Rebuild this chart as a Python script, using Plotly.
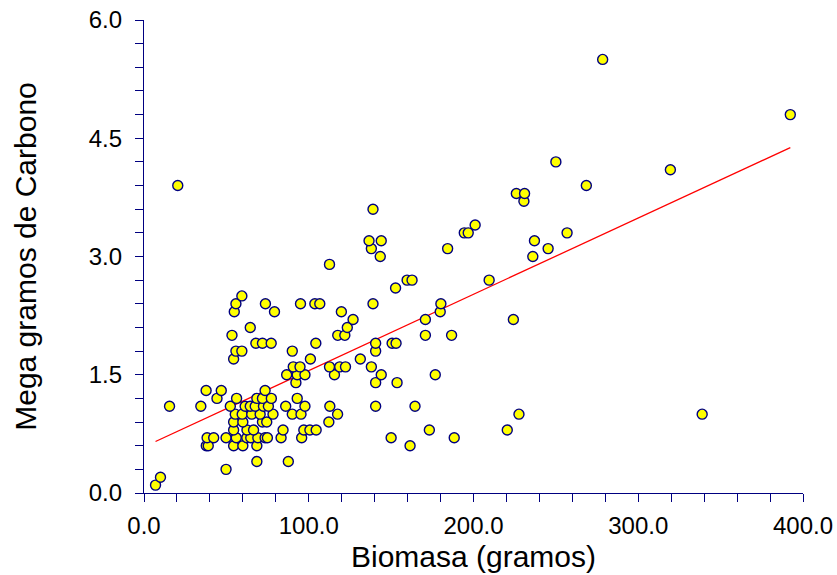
import numpy as np
import plotly.graph_objects as go

# Biomasa (gramos) and Mega gramos de Carbono
biomasa = [
    7, 10, 49.8, 68.5, 87.6,
    37.8, 39.0, 54.4, 60, 68.5, 161.5,
    38.3, 42.3, 49.8, 56, 62.4, 64.8, 69.1, 73.5, 74.9, 83.2, 95.7, 150, 188.3,
    54.4, 62.5, 66.5, 84.4, 97, 100.7, 104.5, 173.2, 220.5,
    54.4, 60, 71.9, 74.5, 112.2,
    55.4, 59.6, 65.4, 70.5, 78.3, 90, 95.3, 117.5, 227.6, 338.8,
    15.5, 34.5, 52.4, 61.4, 64.5, 67.5, 72.5, 75.5, 86, 97.7, 112.8, 140.6, 164.5,
    44.3, 56.2, 68.5, 71.9, 77.3, 93,
    37.7, 46.9, 73.5,
    92.2, 140.6, 153.6,
    86.6, 93, 97.7, 115.6, 144, 176.8,
    90.6, 94.7, 112.6, 118.8, 122.3, 138,
    54.4, 101, 131.3,
    55.8, 59.4, 90, 140.6,
    67.9, 71.9, 77.2, 104.3, 140.6, 150.6, 153,
    53.4, 117.6, 121.9, 170.8, 186.7,
    64.5, 123.4,
    126.9, 170.8, 224.2,
    54.8, 79.2, 119.8, 179.8,
    55.8, 73.7, 95, 103.7, 106.7, 139, 180.2,
    59.4,
    152.7,
    159.7, 162.7, 209.5,
    112.6,
    143.4, 236,
    138, 184.3, 245.3,
    136.6, 144, 237,
    194.4, 196.8, 256.8,
    201,
    139,
    230.6,
    226, 231,
    20.5, 268.5,
    319.5,
    250,
    392.3,
    278.4,
]
carbono = (
    [0.1, 0.2, 0.3, 0.4, 0.4]
    + [0.6] * 6
    + [0.7] * 13
    + [0.8] * 9
    + [0.9] * 5
    + [1.0] * 10
    + [1.1] * 13
    + [1.2] * 6
    + [1.3] * 3
    + [1.4] * 3
    + [1.5] * 6
    + [1.6] * 6
    + [1.7] * 3
    + [1.8] * 4
    + [1.9] * 7
    + [2.0] * 5
    + [2.1] * 2
    + [2.2] * 3
    + [2.3] * 4
    + [2.4] * 7
    + [2.5] * 1
    + [2.6] * 1
    + [2.7] * 3
    + [2.9] * 1
    + [3.0] * 2
    + [3.1] * 3
    + [3.2] * 3
    + [3.3] * 3
    + [3.4] * 1
    + [3.6] * 1
    + [3.7] * 1
    + [3.8] * 2
    + [3.9] * 2
    + [4.1] * 1
    + [4.2] * 1
    + [4.8] * 1
    + [5.5] * 1
)

x_ticks = [0, 100, 200, 300, 400]
y_ticks = [0, 1.5, 3.0, 4.5, 6.0]

x = np.array(biomasa, dtype=float)
y = np.array(carbono, dtype=float)
slope, intercept = np.polyfit(x, y, 1)
xl = np.array([x.min(), x.max()])
yl = intercept + slope * xl

NAVY = "#000080"
FONT = "Liberation Sans, Arial, sans-serif"

fig = go.Figure()
fig.add_trace(go.Scatter(
    x=xl, y=yl, mode="lines",
    line=dict(color="#FF0000", width=1.3),
    hoverinfo="skip", showlegend=False, cliponaxis=False,
))
fig.add_trace(go.Scatter(
    x=x, y=y, mode="markers",
    marker=dict(size=10, color="#FFFF00", line=dict(color=NAVY, width=1.4)),
    cliponaxis=False, showlegend=False,
))

axis_common = dict(
    showline=True, linecolor=NAVY, linewidth=1.2,
    ticks="outside", ticklen=8, tickcolor=NAVY, tickwidth=1.2,
    showgrid=False, zeroline=False, mirror=False,
    tickfont=dict(family=FONT, size=24, color="black"),
    tickformat=".1f", automargin=False, ticklabeloverflow="allow",
)

fig.update_xaxes(
    range=[0, 400], tickvals=x_ticks,
    minor=dict(dtick=20, ticks="outside", ticklen=8, tickcolor=NAVY, tickwidth=1.2),
    title=dict(text="Biomasa (gramos)", font=dict(family=FONT, size=30, color="black"), standoff=8),
    ticklabelstandoff=3,
    **axis_common,
)
fig.update_yaxes(
    range=[0, 6], tickvals=y_ticks,
    minor=dict(dtick=0.3, ticks="outside", ticklen=8, tickcolor=NAVY, tickwidth=1.2),
    title=dict(text="Mega gramos de Carbono", font=dict(family=FONT, size=30, color="black"), standoff=43),
    ticklabelstandoff=8,
    **axis_common,
)

fig.update_layout(
    width=837, height=575,
    margin=dict(l=144, r=34, t=20, b=82),
    plot_bgcolor="white", paper_bgcolor="white",
    showlegend=False,
)

# remove the default 8 px page margin so the figure fills the window exactly
fig.write_html(
    "out.html",
    config={"displayModeBar": False},
    post_script="document.body.style.margin='0';document.body.style.overflow='hidden';",
)
